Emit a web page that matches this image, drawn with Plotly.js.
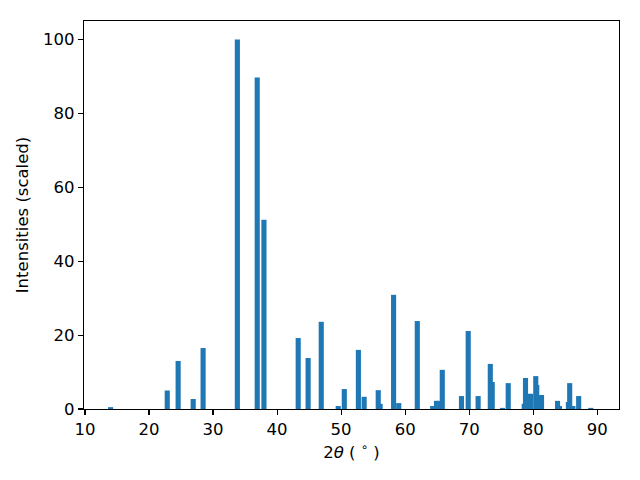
<!DOCTYPE html>
<html>
<head>
<meta charset="utf-8">
<script src="https://cdn.plot.ly/plotly-3.0.1.min.js"></script>
<style>html,body{margin:0;padding:0;background:#fff;}</style>
</head>
<body>
<div id="chart" style="width:640px;height:480px;"></div>
<script>
const twoTheta = [14.0, 22.85, 24.55, 26.9, 28.45, 33.8, 36.9, 37.95, 43.3, 44.85, 46.9,
  49.55, 50.5, 52.7, 53.6, 55.8, 56.1, 58.2, 59.0, 61.9, 64.3, 64.9, 65.1, 65.8,
  68.8, 69.85, 71.4, 73.3, 73.6, 75.2, 76.1, 78.6, 78.8, 79.4, 79.6, 80.4, 80.55, 81.3,
  83.8, 84.1, 85.5, 85.7, 86.2, 87.1, 89.0];
const intensity = [0.5, 5.0, 13.0, 2.7, 16.5, 100, 89.7, 51.2, 19.2, 13.8, 23.6,
  0.8, 5.4, 16.0, 3.3, 5.1, 1.4, 30.9, 1.6, 23.8, 0.8, 2.2, 2.2, 10.6,
  3.5, 21.1, 3.5, 12.2, 7.3, 0.3, 7.0, 1.4, 8.4, 4.1, 4.1, 8.9, 6.5, 3.8,
  2.2, 0.8, 1.9, 7.0, 0.8, 3.5, 0.3];
const xTicks = [10, 20, 30, 40, 50, 60, 70, 80, 90];
const yTicks = [0, 20, 40, 60, 80, 100];

const axisCommon = {
  showline: true, mirror: true, linecolor: '#000', linewidth: 1.1,
  ticks: 'outside', ticklen: 5, tickwidth: 1.1, tickcolor: '#000',
  showgrid: false, zeroline: false,
  tickfont: {family: 'DejaVu Sans', size: 16.5, color: '#000'}
};

Plotly.newPlot('chart', [{
  type: 'bar', x: twoTheta, y: intensity, width: 0.8,
  marker: {color: '#1f77b4', line: {width: 0}}
}], {
  width: 640, height: 480,
  margin: {l: 84, r: 21, t: 21, b: 71},
  paper_bgcolor: '#fff', plot_bgcolor: '#fff',
  barmode: 'overlay', showlegend: false,
  xaxis: Object.assign({}, axisCommon, {
    range: [9.85, 93.4], tickvals: xTicks,
    title: {text: '2<i>θ</i> ( <sup>∘</sup> )', font: {family: 'DejaVu Sans', size: 16.5, color: '#000'}, standoff: 8}
  }),
  yaxis: Object.assign({}, axisCommon, {
    range: [0, 105], tickvals: yTicks,
    title: {text: 'Intensities (scaled)', font: {family: 'DejaVu Sans', size: 16.5, color: '#000'}, standoff: 10}
  })
}, {staticPlot: true});
</script>
</body>
</html>
